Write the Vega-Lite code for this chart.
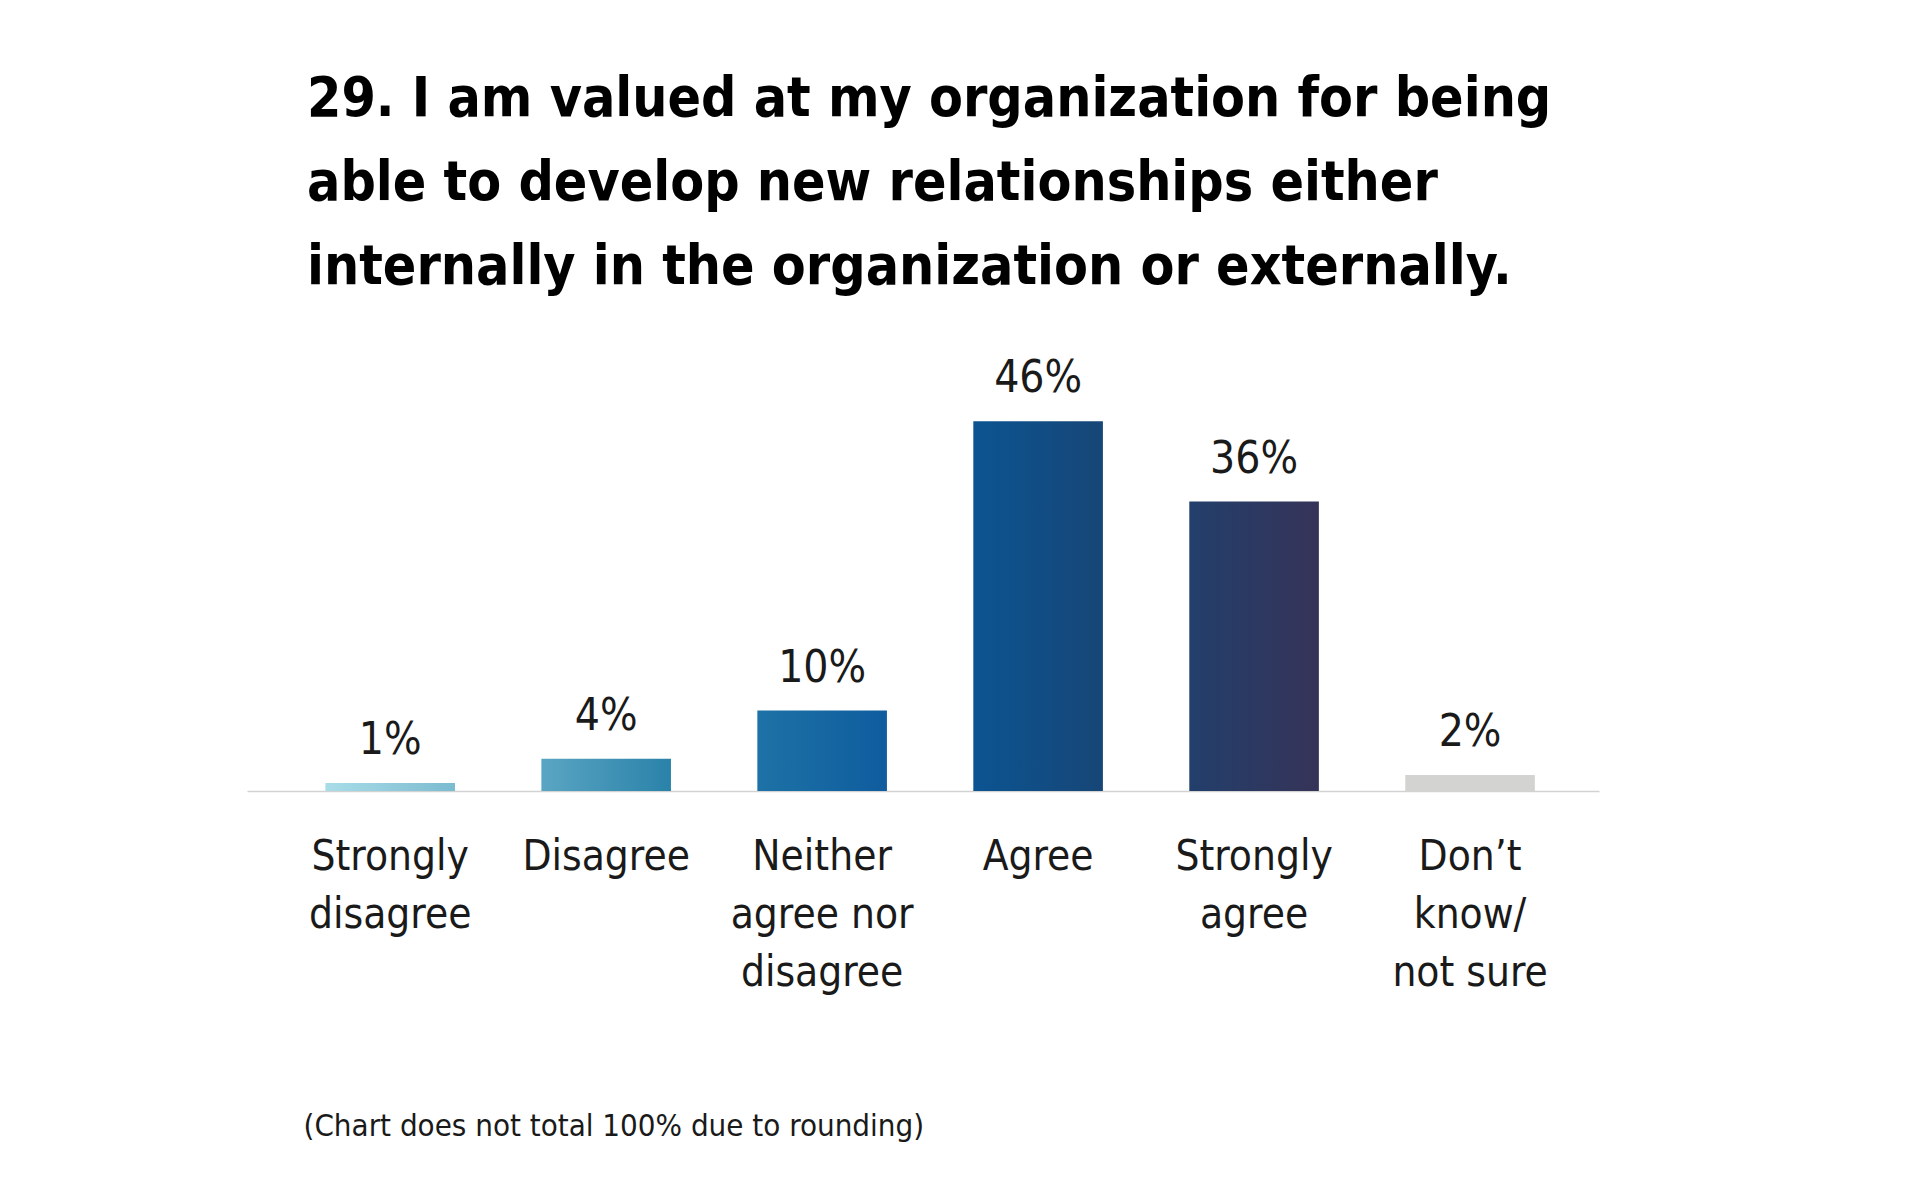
{
  "$schema": "https://vega.github.io/schema/vega-lite/v6.json",
  "autosize": {"type": "none"},
  "width": 1352,
  "height": 402,
  "padding": {"left": 247, "top": 389, "right": 321, "bottom": 408},
  "background": "#ffffff",
  "config": {
    "view": {"stroke": null},
    "font": "DejaVu Sans Condensed"
  },
  "title": {
    "text": [
      "29. I am valued at my organization for being",
      "able to develop new relationships either",
      "internally in the organization or externally."
    ],
    "anchor": "start",
    "frame": "group",
    "font": "DejaVu Sans Condensed",
    "fontWeight": "bold",
    "fontSize": 55,
    "lineHeight": 84,
    "color": "#000000",
    "dx": 60,
    "offset": 61
  },
  "data": {
    "values": [
      {"category": "Strongly disagree", "value": 1, "label": "1%"},
      {"category": "Disagree", "value": 4, "label": "4%"},
      {"category": "Neither agree nor disagree", "value": 10, "label": "10%"},
      {"category": "Agree", "value": 46, "label": "46%"},
      {"category": "Strongly agree", "value": 36, "label": "36%"},
      {"category": "Don’t know/ not sure", "value": 2, "label": "2%"}
    ]
  },
  "encoding": {
    "x": {
      "field": "category",
      "type": "nominal",
      "sort": null,
      "scale": {"paddingInner": 0.4, "paddingOuter": 0.33, "align": 0.55},
      "axis": {
        "orient": "bottom",
        "title": "(Chart does not total 100% due to rounding)",
        "titleFont": "DejaVu Sans Condensed",
        "titleFontSize": 31,
        "titleFontWeight": "normal",
        "titleColor": "#1a1a1a",
        "titleAnchor": "start",
        "titleAlign": "left",
        "titleBaseline": "alphabetic",
        "titleX": 56,
        "titleY": 344,
        "domain": true,
        "domainColor": "#d2d2d2",
        "domainWidth": 1.5,
        "ticks": false,
        "grid": false,
        "labelAngle": 0,
        "labelFont": "DejaVu Sans Condensed",
        "labelFontSize": 42,
        "labelColor": "#1a1a1a",
        "labelPadding": 45,
        "labelLineHeight": 58,
        "labelLimit": 500,
        "labelOverlap": false,
        "labelBound": false,
        "labelExpr": "datum.value == 'Neither agree nor disagree' ? ['Neither', 'agree nor', 'disagree'] : datum.value == 'Don’t know/ not sure' ? ['Don’t', 'know/', 'not sure'] : split(datum.value, ' ')"
      }
    },
    "y": {
      "field": "value",
      "type": "quantitative",
      "scale": {"domain": [0, 50], "nice": false},
      "axis": null
    }
  },
  "layer": [
    {
      "mark": {"type": "bar"},
      "encoding": {
        "color": {
          "condition": [
            {"test": "datum.category === 'Strongly disagree'", "value": {"gradient": "linear", "x1": 0, "x2": 1, "y1": 0, "y2": 0, "stops": [{"offset": 0, "color": "#a9dde8"}, {"offset": 1, "color": "#7bbbd0"}]}},
            {"test": "datum.category === 'Disagree'", "value": {"gradient": "linear", "x1": 0, "x2": 1, "y1": 0, "y2": 0, "stops": [{"offset": 0, "color": "#5aa5c3"}, {"offset": 1, "color": "#2a82a9"}]}},
            {"test": "datum.category === 'Neither agree nor disagree'", "value": {"gradient": "linear", "x1": 0, "x2": 1, "y1": 0, "y2": 0, "stops": [{"offset": 0, "color": "#1d72a6"}, {"offset": 1, "color": "#0f5c9e"}]}},
            {"test": "datum.category === 'Agree'", "value": {"gradient": "linear", "x1": 0, "x2": 1, "y1": 0, "y2": 0, "stops": [{"offset": 0, "color": "#0b5491"}, {"offset": 1, "color": "#174677"}]}},
            {"test": "datum.category === 'Strongly agree'", "value": {"gradient": "linear", "x1": 0, "x2": 1, "y1": 0, "y2": 0, "stops": [{"offset": 0, "color": "#223f6b"}, {"offset": 1, "color": "#363358"}]}}
          ],
          "value": "#d3d3d1"
        }
      }
    },
    {
      "mark": {
        "type": "text",
        "baseline": "alphabetic",
        "dy": -29,
        "font": "DejaVu Sans Condensed",
        "fontSize": 44,
        "color": "#1a1a1a"
      },
      "encoding": {
        "text": {"field": "label"}
      }
    }
  ]
}
